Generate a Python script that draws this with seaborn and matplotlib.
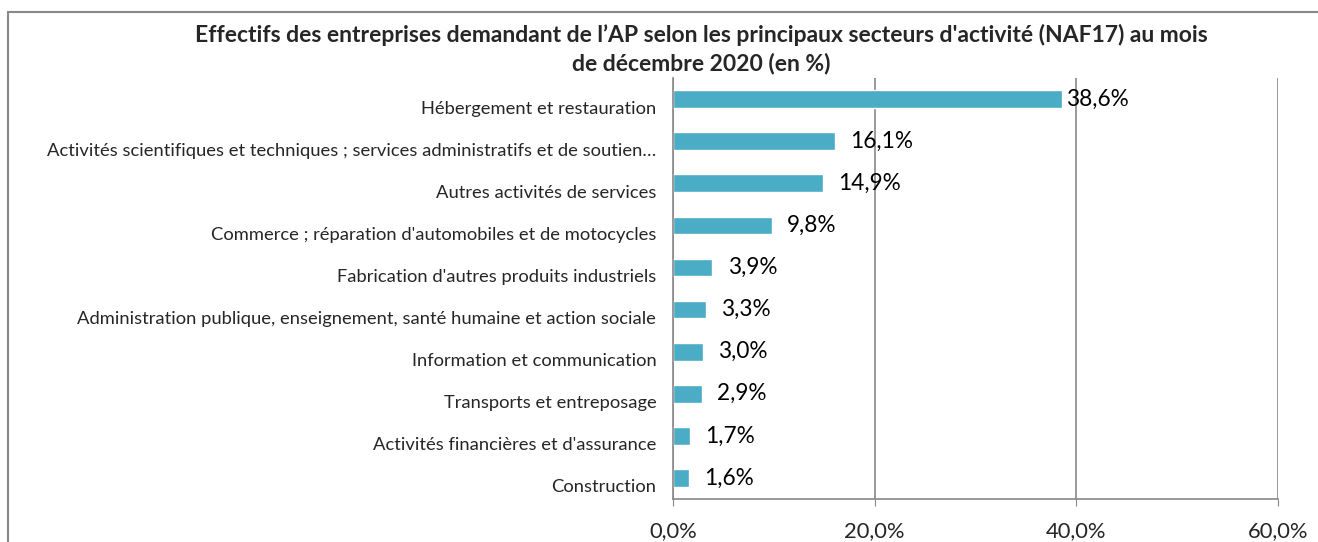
import matplotlib
matplotlib.use("Agg")
import matplotlib.pyplot as plt
import matplotlib.transforms as mtransforms
import seaborn as sns
import pandas as pd
from matplotlib.patches import Rectangle

# data
secteurs = [
    "Hébergement et restauration",
    "Activités scientifiques et techniques ; services administratifs et de soutien…",
    "Autres activités de services",
    "Commerce ; réparation d'automobiles et de motocycles",
    "Fabrication d'autres produits industriels",
    "Administration publique, enseignement, santé humaine et action sociale",
    "Information et communication",
    "Transports et entreposage",
    "Activités financières et d'assurance",
    "Construction",
]
parts = [38.6, 16.1, 14.9, 9.8, 3.9, 3.3, 3.0, 2.9, 1.7, 1.6]
xticks = [0, 20, 40, 60]
xtick_labels = ["0,0%", "20,0%", "40,0%", "60,0%"]
titre = ("Effectifs des entreprises demandant de l’AP selon les principaux secteurs d'activité (NAF17) au mois\n"
         "de décembre 2020 (en %)")

df = pd.DataFrame({"secteur": secteurs, "part": parts})

sns.set_style("white")
plt.rcParams["font.family"] = ["Lato", "DejaVu Sans"]

fig = plt.figure(figsize=(13.18, 5.42), dpi=100)
ax = fig.add_axes([0.5106, 0.0793, 0.4590, 0.7768])

sns.barplot(data=df, y="secteur", x="part", orient="h", color="#4BACC6",
            saturation=1, width=0.42, ax=ax)

# labels of values, french decimal comma
for bar, v in zip(ax.patches, parts):
    ax.annotate(f"{v:.1f}%".replace(".", ","),
                (bar.get_width(), bar.get_y() + bar.get_height() / 2),
                xytext=(3 if v > 30 else 11, 0), textcoords="offset points",
                va="center", ha="left", fontsize=16.3, color="black")

ax.set_xlim(0, 60)
ax.set_ylim(9.5, -0.5)
ax.set_xticks(xticks)
ax.set_xticklabels(xtick_labels, fontsize=15.8)
ax.set_ylabel("")
ax.set_xlabel("")
ax.tick_params(axis="y", labelsize=13.2, length=0, pad=12)
ax.set_yticks([i - 0.5 for i in range(len(secteurs) + 1)], minor=True)
ax.tick_params(axis="y", which="minor", length=5, color="#888888", direction="out")
ax.tick_params(axis="x", length=5, color="#888888", direction="out", pad=11, bottom=True)

# category labels sit a little below the bars, as in the excel chart
shift = mtransforms.ScaledTranslation(0, -8 / 100, fig.dpi_scale_trans)
for lab in ax.get_yticklabels():
    lab.set_transform(lab.get_transform() + shift)

ax.xaxis.grid(True, color="#888888", linewidth=1.2)
ax.set_axisbelow(True)
for s in ["top", "right"]:
    ax.spines[s].set_visible(False)
for s in ["left", "bottom"]:
    ax.spines[s].set_color("#888888")
    ax.spines[s].set_linewidth(1.2)

fig.text(0.532, 0.910, titre, ha="center", va="center", fontsize=16.5,
         fontweight="bold", linespacing=1.38)

# chart area frame, cropped on the right and bottom like the reference
fig.patches.append(Rectangle((8 / 1318, -0.2), 1.2, 1.2 - 12 / 542,
                             transform=fig.transFigure, fill=False,
                             edgecolor="#888888", linewidth=1.5))

fig.savefig("out.png", dpi=100)
